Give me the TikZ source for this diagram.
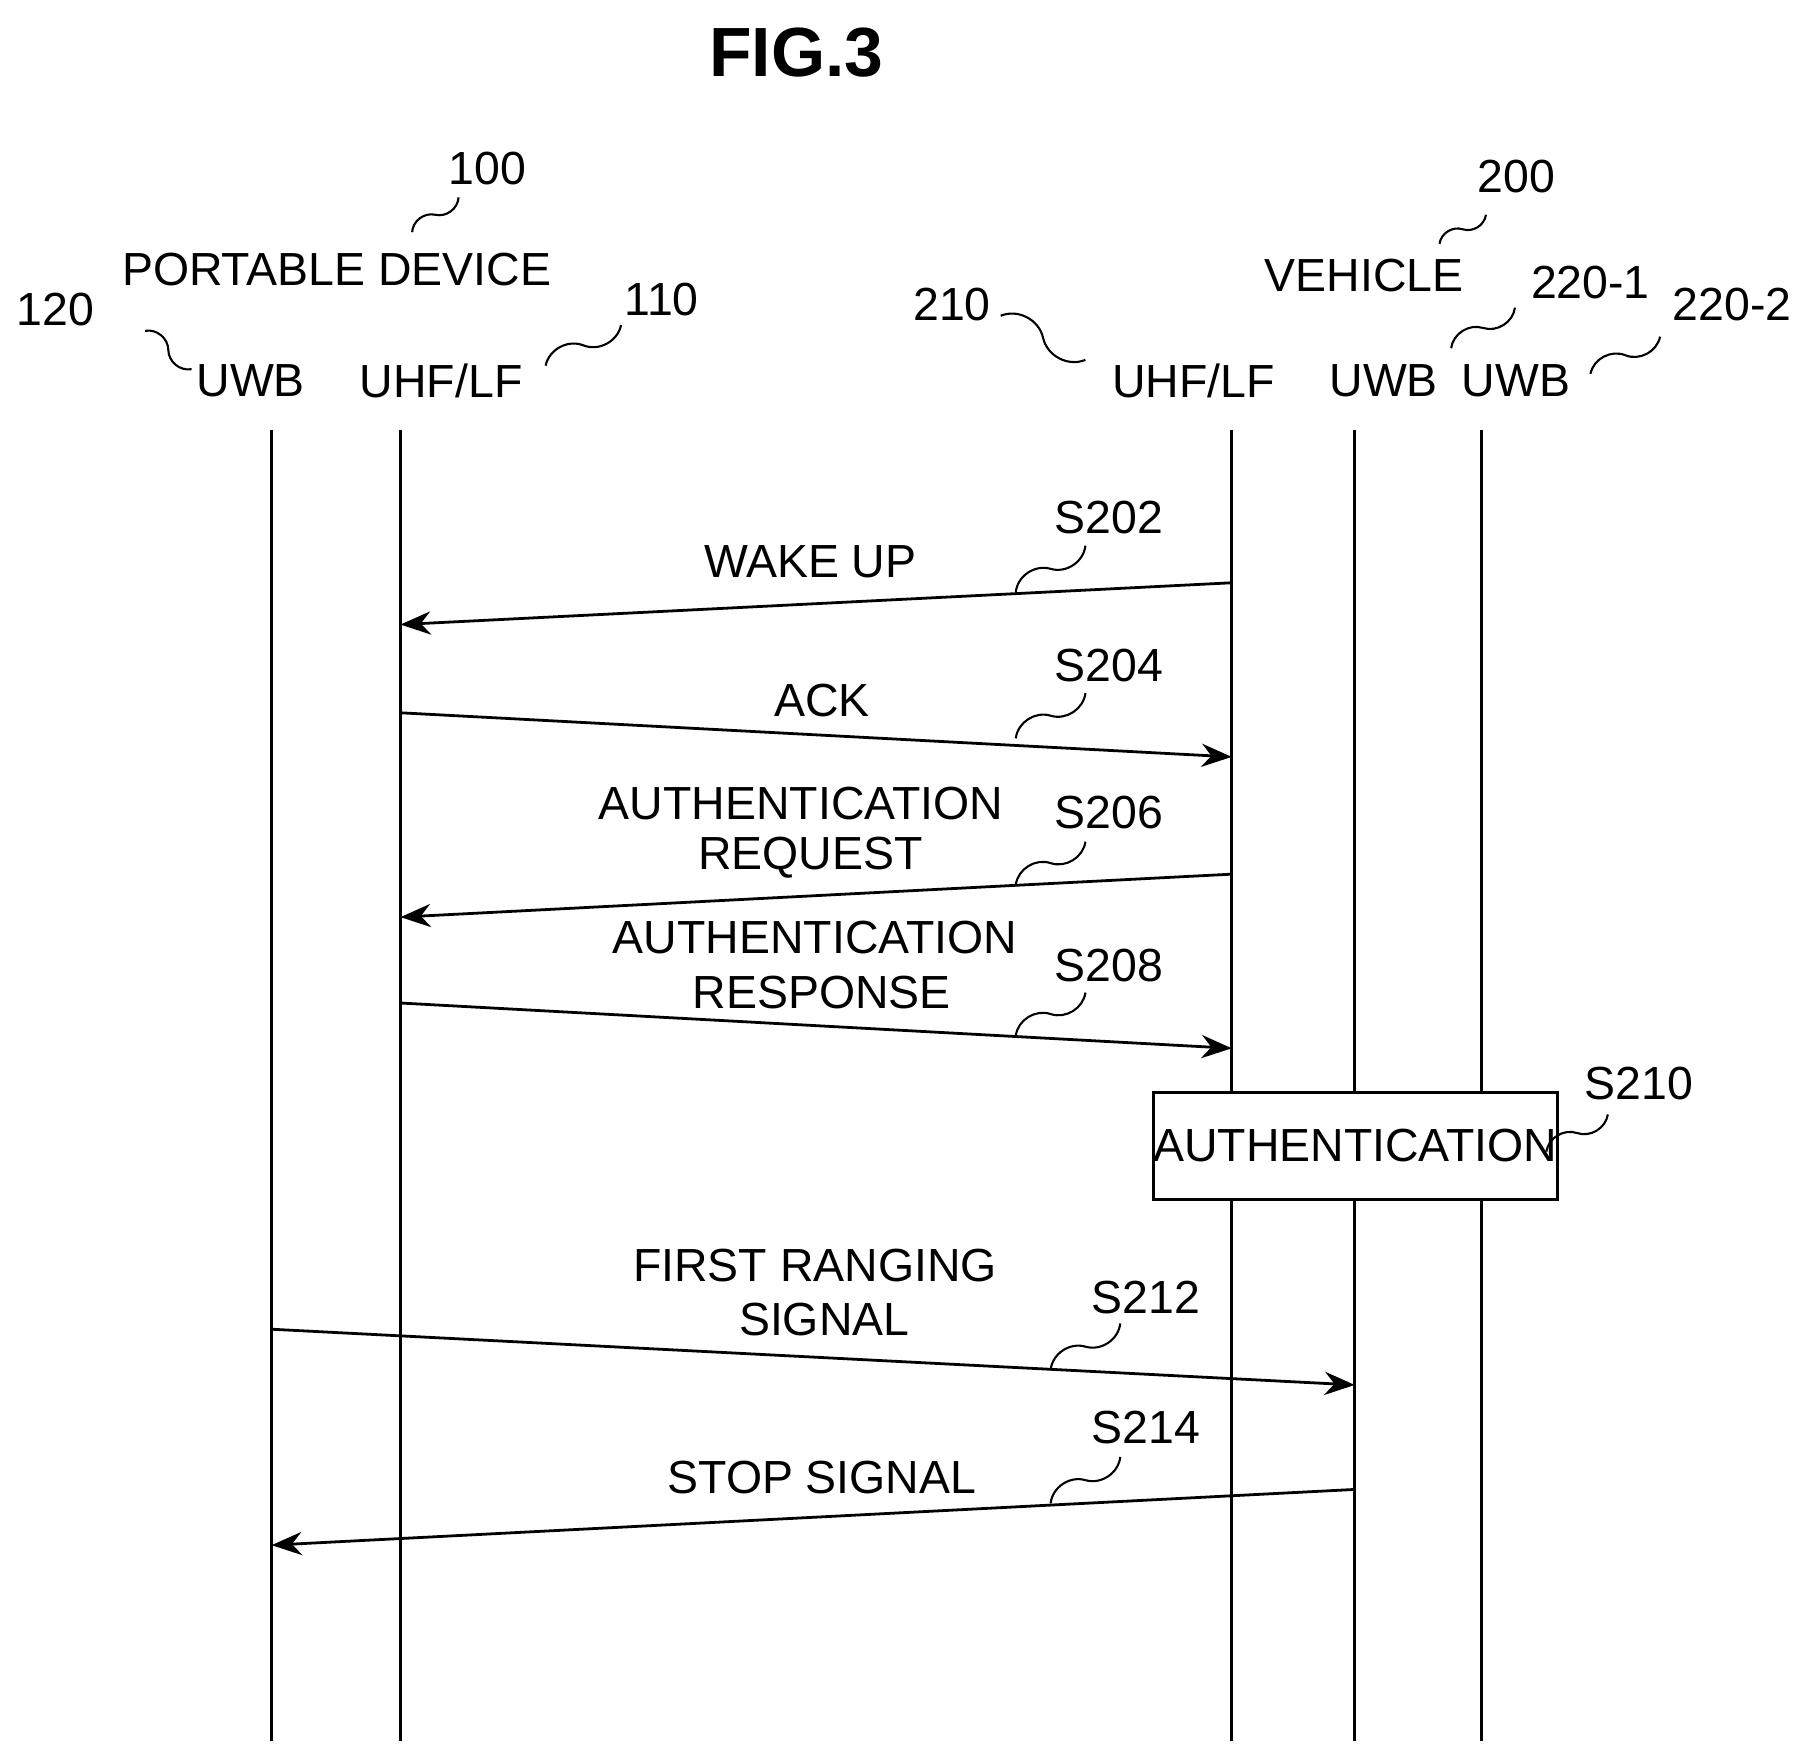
\documentclass[tikz,border=0pt]{standalone}
\usepackage{fontspec}
\setmainfont{Liberation Sans}
\usetikzlibrary{arrows.meta,calc}
\begin{document}
\begin{tikzpicture}[x=0.5pt,y=-0.5pt,
  txt/.style={font=\fontsize{20}{22}\selectfont,inner sep=0pt,align=center},
  life/.style={line width=1.2pt},
  msg/.style={line width=1.2pt,-{Stealth[length=13pt,width=10pt]}},
  sq/.style={line width=0.9pt}]
\useasboundingbox (0,0) rectangle (1560,1509);
\newcommand{\squig}[2]{\draw[sq] (#1) to[bend left=50] ($(#1)!0.5!(#2)$) to[bend right=50] (#2);}
\node[font=\fontsize{30}{32}\selectfont\bfseries,inner sep=0pt] (title) at (686,45) {FIG.3};
% lifelines
\foreach \n/\x in {a/234,b/345,c/1061,d/1167,e/1276}{
  \coordinate (\n top) at (\x,370); \coordinate (\n bot) at (\x,1500);
  \draw[life] (\n top) -- (\n bot);}
% headers
\node[txt] (n100) at (420,145) {100};
\node[txt] (pd) at (290,232) {PORTABLE DEVICE};
\node[txt] (n120) at (48,267) {120};
\node[txt] (uwb1) at (216,328) {UWB};
\node[txt] (uhf1) at (380,328) {UHF/LF};
\node[txt] (n110) at (570,258) {110};
\node[txt] (n210) at (820,262) {210};
\node[txt] (uhf2) at (1028,328) {UHF/LF};
\node[txt] (uwb2) at (1192,328) {UWB};
\node[txt] (uwb3) at (1306,328) {UWB};
\node[txt] (n200) at (1306,152) {200};
\node[txt] (veh) at (1175,237) {VEHICLE};
\node[txt] (n2201) at (1370,243) {220-1};
\node[txt] (n2202) at (1492,262) {220-2};
\coordinate (q1a) at (355,200); \coordinate (q1b) at (395,170); \squig{q1a}{q1b}
\coordinate (q2a) at (125,285); \coordinate (q2b) at (165,318); \squig{q2a}{q2b}
\coordinate (q3a) at (470,315); \coordinate (q3b) at (535,280); \squig{q3a}{q3b}
\coordinate (q4a) at (862,272); \coordinate (q4b) at (935,310); \squig{q4a}{q4b}
\coordinate (q5a) at (1240,210); \coordinate (q5b) at (1280,185); \squig{q5a}{q5b}
\coordinate (q6a) at (1250,300); \coordinate (q6b) at (1305,265); \squig{q6a}{q6b}
\coordinate (q7a) at (1370,322); \coordinate (q7b) at (1430,290); \squig{q7a}{q7b}
% messages
\coordinate (m1s) at (1061,502); \coordinate (m1e) at (345,538);
\draw[msg] (m1s) -- (m1e);
\node[txt] (l1) at (698,484) {WAKE UP};
\node[txt] (s202) at (955,446) {S202};
\coordinate (r1a) at (875,510); \coordinate (r1b) at (935,470); \squig{r1a}{r1b}

\coordinate (m2s) at (345,614); \coordinate (m2e) at (1061,652);
\draw[msg] (m2s) -- (m2e);
\node[txt] (l2) at (708,603) {ACK};
\node[txt] (s204) at (955,573) {S204};
\coordinate (r2a) at (875,636); \coordinate (r2b) at (935,597); \squig{r2a}{r2b}

\coordinate (m3s) at (1061,753); \coordinate (m3e) at (345,790);
\draw[msg] (m3s) -- (m3e);
\node[txt] (l3a) at (690,692) {AUTHENTICATION};
\node[txt] (l3b) at (698,739) {REQUEST};
\node[txt] (s206) at (955,700) {S206};
\coordinate (r3a) at (875,762); \coordinate (r3b) at (935,725); \squig{r3a}{r3b}

\coordinate (m4s) at (345,864); \coordinate (m4e) at (1061,903);
\draw[msg] (m4s) -- (m4e);
\node[txt] (l4a) at (702,808) {AUTHENTICATION};
\node[txt] (l4b) at (708,855) {RESPONSE};
\node[txt] (s208) at (955,832) {S208};
\coordinate (r4a) at (875,892); \coordinate (r4b) at (935,855); \squig{r4a}{r4b}

\node[draw,line width=1.2pt,fill=white,minimum width=329*0.5pt,minimum height=92*0.5pt,inner sep=0pt,font=\fontsize{20}{22}\selectfont] (auth) at (1167.5,987) {AUTHENTICATION};
\node[txt] (s210) at (1412,933) {S210};
\coordinate (r5a) at (1332,992); \coordinate (r5b) at (1385,960); \squig{r5a}{r5b}

\coordinate (m6s) at (234,1145); \coordinate (m6e) at (1167,1193);
\draw[msg] (m6s) -- (m6e);
\node[txt] (l6a) at (702,1090) {FIRST RANGING};
\node[txt] (l6b) at (710,1137) {SIGNAL};
\node[txt] (s212) at (987,1118) {S212};
\coordinate (r6a) at (905,1180); \coordinate (r6b) at (965,1140); \squig{r6a}{r6b}

\coordinate (m7s) at (1167,1283); \coordinate (m7e) at (234,1331);
\draw[msg] (m7s) -- (m7e);
\node[txt] (l7) at (708,1273) {STOP SIGNAL};
\node[txt] (s214) at (987,1230) {S214};
\coordinate (r7a) at (905,1295); \coordinate (r7b) at (965,1255); \squig{r7a}{r7b}
\end{tikzpicture}
\end{document}
